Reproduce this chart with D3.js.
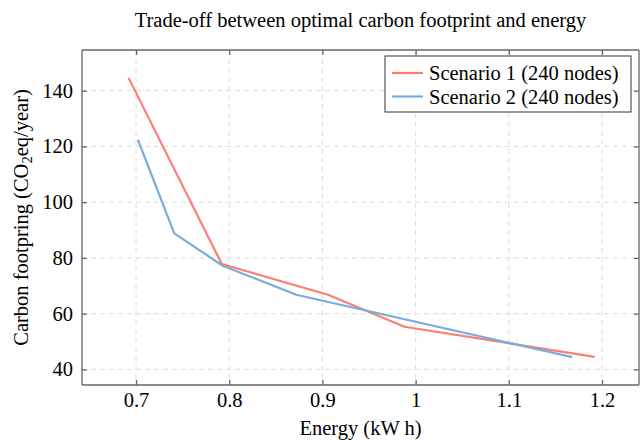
<!DOCTYPE html>
<html>
<head>
<meta charset="utf-8">
<script src="https://cdn.jsdelivr.net/npm/d3@7"></script>
<style>
  body { margin: 0; background: #fff; }
  text { font-family: "Liberation Serif", "DejaVu Serif", serif; fill: #000; }
</style>
</head>
<body>
<svg width="640" height="440"></svg>
<script>
// data
var energy1 = [0.692, 0.792, 0.906, 0.988, 1.192];
var carbon1 = [144.6, 77.8, 66.8, 55.3, 44.5];
var energy2 = [0.702, 0.741, 0.793, 0.872, 1.168];
var carbon2 = [122.4, 88.8, 77.2, 66.8, 44.4];
var seriesNames = ["Scenario 1 (240 nodes)", "Scenario 2 (240 nodes)"];
var colors = ["#fa7f71", "#7aaddb"];
var xTicks = [0.7, 0.8, 0.9, 1, 1.1, 1.2];
var yTicks = [40, 60, 80, 100, 120, 140];

var svg = d3.select("svg"),
    mLeft = 82, mRight = 639, mTop = 50, mBottom = 385;

var x = d3.scaleLinear().domain([0.642, 1.2397]).range([mLeft, mRight]);
var y = d3.scaleLinear().domain([34.4, 154.6]).range([mBottom, mTop]);

var series = [
  energy1.map(function(e, i) { return [e, carbon1[i]]; }),
  energy2.map(function(e, i) { return [e, carbon2[i]]; })
];

//grid
svg.append("g").selectAll("line").data(xTicks).enter().append("line")
  .attr("x1", d => x(d)).attr("x2", d => x(d))
  .attr("y1", mTop).attr("y2", mBottom)
  .attr("stroke", "#dcdcdc").attr("stroke-dasharray", "5,4");
svg.append("g").selectAll("line").data(yTicks).enter().append("line")
  .attr("y1", d => y(d)).attr("y2", d => y(d))
  .attr("x1", mLeft).attr("x2", mRight)
  .attr("stroke", "#dcdcdc").attr("stroke-dasharray", "5,4");

//axes, ticks inside
var axisColor = "#666";
var xb = svg.append("g").attr("transform", "translate(0," + mBottom + ")")
  .call(d3.axisBottom(x).tickValues(xTicks).tickSize(-5).tickPadding(7)
    .tickFormat(d3.format("")));
var xt = svg.append("g").attr("transform", "translate(0," + mTop + ")")
  .call(d3.axisTop(x).tickValues(xTicks).tickSize(-5).tickFormat(""));
var yl = svg.append("g").attr("transform", "translate(" + mLeft + ",0)")
  .call(d3.axisLeft(y).tickValues(yTicks).tickSize(-5).tickPadding(9));
var yr = svg.append("g").attr("transform", "translate(" + mRight + ",0)")
  .call(d3.axisRight(y).tickValues(yTicks).tickSize(-5).tickFormat(""));
[xb, xt, yl, yr].forEach(function(g) {
  g.attr("font-family", "Liberation Serif").attr("font-size", 20.5);
  g.select(".domain").attr("stroke", axisColor).attr("stroke-width", 1.3);
  g.selectAll(".tick line").attr("stroke", axisColor).attr("stroke-width", 1.3);
  g.selectAll(".tick text").attr("fill", "#000");
});
xb.select(".domain").attr("d", "M" + mLeft + ",0H" + mRight);
xt.select(".domain").attr("d", "M" + mLeft + ",0H" + mRight);
yl.select(".domain").attr("d", "M0," + mTop + "V" + mBottom);
yr.select(".domain").attr("d", "M0," + mTop + "V" + mBottom);

//lines
var line = d3.line().x(d => x(d[0])).y(d => y(d[1]));
svg.append("g").selectAll("path").data(series).enter().append("path")
  .attr("d", line)
  .attr("fill", "none")
  .attr("stroke", (d, i) => colors[i])
  .attr("stroke-width", 2.2)
  .attr("stroke-linejoin", "round");

//title and labels
svg.append("text").attr("x", (mLeft + mRight) / 2).attr("y", 27)
  .attr("text-anchor", "middle").style("font-size", "20.5px")
  .text("Trade-off between optimal carbon footprint and energy");
svg.append("text").attr("x", (mLeft + mRight) / 2).attr("y", 435)
  .attr("text-anchor", "middle").style("font-size", "20.5px")
  .text("Energy (kW h)");
var yLab = svg.append("text")
  .attr("transform", "translate(28," + (mTop + mBottom) / 2 + ") rotate(-90)")
  .attr("text-anchor", "middle").style("font-size", "20.5px");
yLab.append("tspan").text("Carbon footpring (CO");
yLab.append("tspan").attr("dy", 4).style("font-size", "14.5px").text("2");
yLab.append("tspan").attr("dy", -4).text("eq/year)");

//legend
var lg = svg.append("g").attr("transform", "translate(385,56)");
lg.append("rect").attr("width", 246).attr("height", 56)
  .attr("fill", "#fff").attr("stroke", "#333").attr("stroke-width", 1);
seriesNames.forEach(function(name, i) {
  var row = lg.append("g").attr("transform", "translate(0," + (17 + i * 23.5) + ")");
  row.append("line").attr("x1", 7).attr("x2", 38).attr("y1", 0).attr("y2", 0)
    .attr("stroke", colors[i]).attr("stroke-width", 2.2);
  row.append("text").attr("x", 44).attr("y", 7).style("font-size", "20.5px").text(name);
});
</script>
</body>
</html>
